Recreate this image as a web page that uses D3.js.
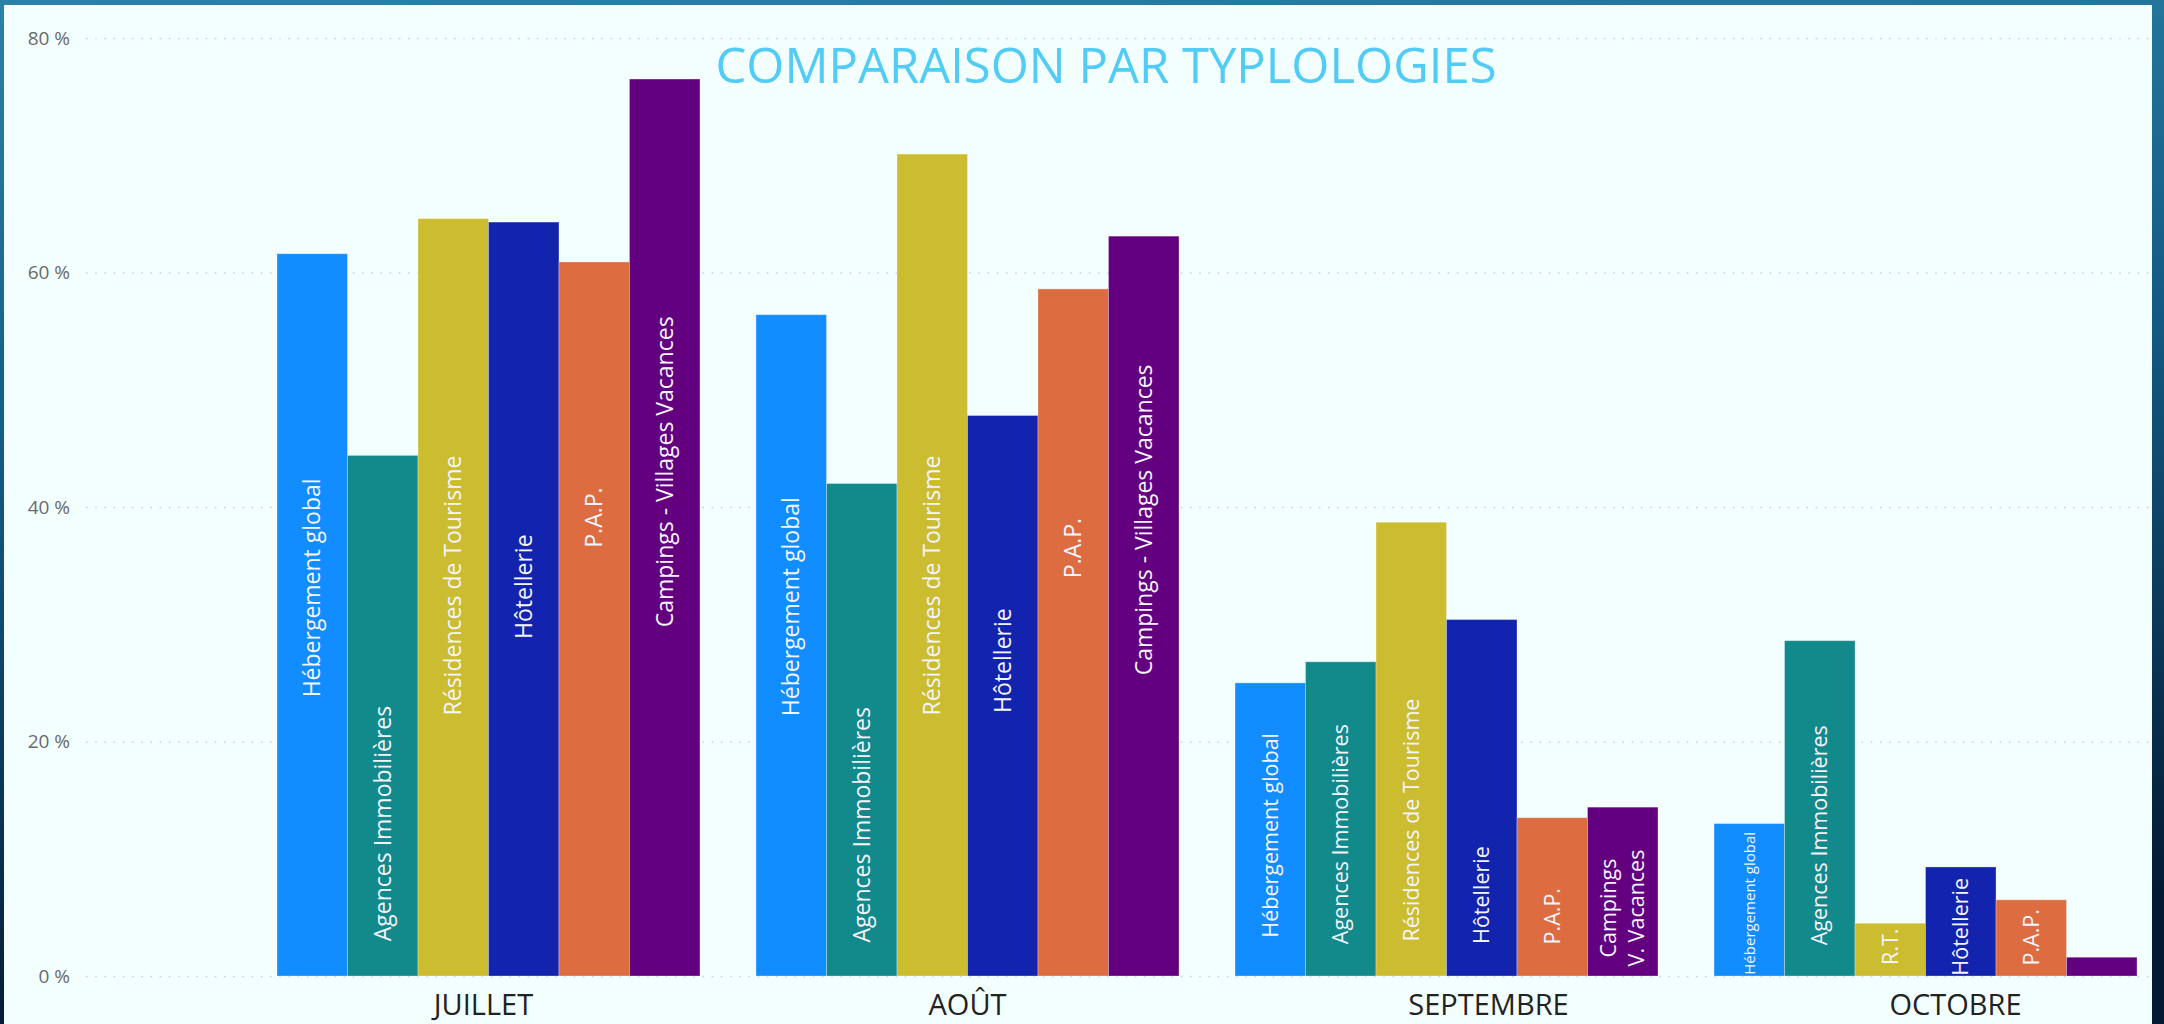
<!DOCTYPE html>
<html lang="fr">
<head>
<meta charset="UTF-8">
<title>Comparaison par typlologies</title>
<style>
  body { margin: 0; background: #0c3a5c; }
  svg { display: block; }
  .grid line { stroke: #c9d2e2; stroke-width: 1.6px; stroke-dasharray: 1.6 7.6; }
  .grid text { font-family: "Open Sans", sans-serif; font-size: 19px; fill: #6a6a6a; }
  .months text { font-family: "Open Sans", sans-serif; font-size: 29px; fill: #222; }
  .bar-label { font-family: "Open Sans", sans-serif; fill: #f4f4ff; }
</style>
</head>
<body>
<svg></svg>
<script src="https://cdnjs.cloudflare.com/ajax/libs/d3/7.8.5/d3.min.js"></script>
<script>

var months = ["JUILLET", "AOÛT", "SEPTEMBRE", "OCTOBRE"];
var typologies = ["Hébergement global", "Agences Immobilières", "Résidences de Tourisme",
                  "Hôtellerie", "P.A.P.", "Campings - Villages Vacances"];

// taux (%) par mois, dans l'ordre des typologies
var valuesJuillet   = [61.6, 44.4, 64.6, 64.3, 60.9, 76.5];
var valuesAout      = [56.4, 42.0, 70.1, 47.8, 58.6, 63.1];
var valuesSeptembre = [25.0, 26.8, 38.7, 30.4, 13.5, 14.4];
var valuesOctobre   = [13.0, 28.6, 4.5, 9.3, 6.5, 1.6];

// textes écrits dans les barres
var labelsJuillet   = typologies;
var labelsAout      = typologies;
var labelsSeptembre = ["Hébergement global", "Agences Immobilières", "Résidences de Tourisme",
                       "Hôtellerie", "P.A.P.", "Campings|V. Vacances"];
var labelsOctobre   = ["Hébergement global", "Agences Immobilières", "R.T.", "Hôtellerie", "P.A.P.", ""];

// hauteur (en %) du centre de chaque texte
var labelAtJuillet   = [33.1, 13.0, 33.3, 33.2, 39.1, 43.0];
var labelAtAout      = [31.5, 12.9, 33.3, 26.9, 36.5, 38.9];
var labelAtSeptembre = [12.0, 12.1, 13.3, 6.9, 5.1, 5.8];
var labelAtOctobre   = [6.2, 12.0, 2.5, 4.2, 3.3, 0];

var yTicks = [0, 20, 40, 60, 80];

var colors = ["#118DFF", "#12898A", "#CBBD2F", "#1224AD", "#DD6D40", "#620080"];

var width = 2164,
    height = 1024,
    plot = { left: 86, right: 2152, top: 38, bottom: 976 };

var allValues = [valuesJuillet, valuesAout, valuesSeptembre, valuesOctobre];
var allLabels = [labelsJuillet, labelsAout, labelsSeptembre, labelsOctobre];
var allLabelAt = [labelAtJuillet, labelAtAout, labelAtSeptembre, labelAtOctobre];
var labelSize = [23, 23, 21.5, 21.5];
var monthShift = [-5, 0, 42, 30];

var data = months.map(function(m, i) {
  return {
    month: m,
    bars: typologies.map(function(t, j) {
      return { type: t, value: allValues[i][j], label: allLabels[i][j], at: allLabelAt[i][j], size: labelSize[i] };
    })
  };
});

var svg = d3.select("svg")
  .attr("width", width)
  .attr("height", height);

var defs = svg.append("defs");
var grad = defs.append("linearGradient")
  .attr("id", "frame")
  .attr("x1", 0).attr("y1", 0).attr("x2", 0.15).attr("y2", 1);
grad.append("stop").attr("offset", "0%").attr("stop-color", "#2a82a8");
grad.append("stop").attr("offset", "45%").attr("stop-color", "#135a82");
grad.append("stop").attr("offset", "100%").attr("stop-color", "#041a33");

svg.append("rect")
  .attr("width", width)
  .attr("height", height)
  .attr("fill", "url(#frame)");

svg.append("rect")
  .attr("x", 4)
  .attr("y", 5)
  .attr("width", plot.right - 4)
  .attr("height", height - 5)
  .attr("fill", "#F3FFFE");

var y = d3.scaleLinear()
  .domain([0, 80])
  .range([plot.bottom, plot.top]);

var x0 = d3.scaleBand()
  .domain(months)
  .range([277, 2137])
  .paddingInner(0.117)
  .paddingOuter(0);

var x1 = d3.scaleBand()
  .domain(typologies)
  .range([0, x0.bandwidth()]);

var color = d3.scaleOrdinal()
  .domain(typologies)
  .range(colors);

// grille + axe des valeurs
var grid = svg.append("g")
  .attr("class", "grid")
  .attr("transform", "translate(" + plot.left + ",0)")
  .call(d3.axisLeft(y)
    .tickValues(yTicks)
    .tickSize(-(plot.right - plot.left))
    .tickPadding(16)
    .tickFormat(function(d) { return d + " %"; }));
grid.select(".domain").remove();

svg.append("text")
  .attr("x", 1106)
  .attr("y", 83)
  .attr("text-anchor", "middle")
  .style("font-family", "'Open Sans', sans-serif")
  .style("font-size", "49px")
  .style("fill", "#52CBF5")
  .text("COMPARAISON PAR TYPLOLOGIES");

var groups = svg.selectAll("g.month")
  .data(data)
  .enter()
  .append("g")
    .attr("class", "month")
    .attr("transform", function(d) { return "translate(" + x0(d.month) + ",0)"; });

groups.selectAll("rect")
  .data(function(d) { return d.bars; })
  .enter()
  .append("rect")
    .attr("x", function(d) { return x1(d.type); })
    .attr("y", function(d) { return y(d.value); })
    .attr("width", x1.bandwidth())
    .attr("height", function(d) { return y(0) - y(d.value); })
    .attr("fill", function(d) { return color(d.type); })
    .attr("stroke", "rgba(255,255,255,0.3)")
    .attr("stroke-width", 1);

var labels = groups.selectAll("text.bar-label")
  .data(function(d) { return d.bars.filter(function(b) { return b.label; }); })
  .enter()
  .append("text")
    .attr("class", "bar-label")
    .attr("text-anchor", "middle")
    .attr("transform", function(d) {
      return "translate(" + (x1(d.type) + x1.bandwidth() / 2) + "," + y(d.at) + ") rotate(-90)";
    })
    .style("font-size", function(d) {
      // le texte complet ne tient pas dans la petite barre d'octobre
      return d.label == "Hébergement global" && d.value < 20 && d.size < 23 && d.at < 8 ? "15px" : d.size + "px";
    });

labels.each(function(d) {
  var lines = d.label.split("|");
  var t = d3.select(this);
  lines.forEach(function(line, i) {
    t.append("tspan")
      .attr("x", 0)
      .attr("dy", i == 0 ? (0.35 - (lines.length - 1) * 0.65) + "em" : "1.3em")
      .text(line);
  });
});

// mois
var monthAxis = svg.append("g")
  .attr("class", "months")
  .attr("transform", "translate(0," + plot.bottom + ")")
  .call(d3.axisBottom(x0).tickSize(0));
monthAxis.select(".domain").remove();
monthAxis.selectAll("text")
  .attr("y", 39)
  .attr("dy", 0)
  .attr("dx", function(d, i) { return monthShift[i]; });

</script>
</body>
</html>
